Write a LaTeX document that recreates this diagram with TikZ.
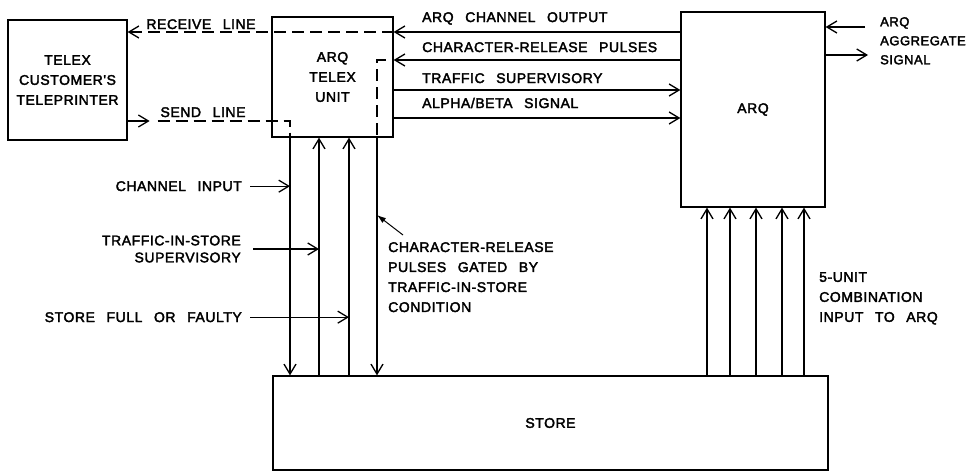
\documentclass[tikz,border=0pt]{standalone}
\usepackage{fontspec}
\usepackage{tikz}
\usetikzlibrary{arrows.meta, positioning}
\newfontfamily\drawfont{Liberation Sans}[LetterSpace=4, WordSpace=2.6, FakeBold=2.5]
\tikzset{
  blockbox/.style={
    draw, line width=1.3pt, align=center,
    font=\drawfont\fontsize{14}{20}\selectfont
  },
  sigarrow/.style={
    -{Straight Barb[length=10pt, width=12pt]}, line width=1.3pt
  },
  sigdash/.style={
    line width=1.3pt, dash pattern=on 12pt off 6pt
  },
  siglabel/.style={
    font=\drawfont\fontsize{14}{20}\selectfont, inner sep=0pt
  },
  ptrarrow/.style={
    -{Latex[length=9pt, width=6pt]}, line width=1pt
  },
}

\begin{document}
\begin{tikzpicture}[x=1pt, y=-1pt]
  \useasboundingbox (0,0) rectangle (970,471);

  % Blocks
  \node[blockbox, minimum width=119pt, minimum height=120pt] (TLX) at (67.5,80)
       {TELEX\\CUSTOMER'S\\TELEPRINTER};
  \node[blockbox, minimum width=121pt, minimum height=120pt] (ATU) at (332.5,77)
       {ARQ\\TELEX\\UNIT};
  \node[blockbox, minimum width=144pt, minimum height=195pt] (ARQ) at (753,109.5) {ARQ};
  \node[blockbox, minimum width=555pt, minimum height=94pt] (STO) at (550.5,423) {STORE};

  % Signal levels
  \coordinate (yRcv) at (0,32);
  \coordinate (yCrp) at (0,60);
  \coordinate (yTsv) at (0,90);
  \coordinate (yAbs) at (0,118);
  \coordinate (ySnd) at (0,121);
  \coordinate (yPtr) at (0,215);
  \coordinate (xCin) at (290,0);
  \coordinate (xTis) at (319,0);
  \coordinate (xSff) at (349,0);
  \coordinate (xCrg) at (377,0);

  % Unit <-> ARQ
  \draw[sigarrow] (ARQ.west |- yRcv) -- (ATU.east |- yRcv);
  \draw[sigarrow] (ARQ.west |- yCrp) -- (ATU.east |- yCrp);
  \draw[sigarrow] (ATU.east |- yTsv) -- (ARQ.west |- yTsv);
  \draw[sigarrow] (ATU.east |- yAbs) -- (ARQ.west |- yAbs);
  \node[siglabel, anchor=base west] (lOut) at (422,22) {ARQ CHANNEL OUTPUT};
  \node[siglabel, anchor=base west] (lCrp) at (422,52) {CHARACTER-RELEASE PULSES};
  \node[siglabel, anchor=base west] (lTsv) at (422,83) {TRAFFIC SUPERVISORY};
  \node[siglabel, anchor=base west] (lAbs) at (422,108) {ALPHA/BETA SIGNAL};

  % Telex lines
  \draw[sigdash, -{Straight Barb[length=10pt, width=12pt]}]
       (ATU.east |- yRcv) -- (TLX.east |- yRcv);
  \coordinate (sndTip) at ([xshift=22pt]TLX.east |- ySnd);
  \draw[sigarrow] (TLX.east |- ySnd) -- (sndTip);
  \draw[sigdash] ([xshift=8pt]sndTip) -- (xCin |- ySnd) -- (xCin |- ATU.south);
  \node[siglabel, anchor=base] (lRcv) at (201,29) {RECEIVE LINE};
  \node[siglabel, anchor=base] (lSnd) at (203,117) {SEND LINE};

  % Unit <-> store
  \path (ATU.east |- yCrp) ++(-8,0) coordinate (crpIn);
  \draw[sigdash] (crpIn) -| (xCrg |- ATU.south);
  \draw[sigarrow] (xCin |- ATU.south) -- (xCin |- STO.north);
  \draw[sigarrow] (xTis |- STO.north) -- (xTis |- ATU.south);
  \draw[sigarrow] (xSff |- STO.north) -- (xSff |- ATU.south);
  \draw[sigarrow] (xCrg |- ATU.south) -- (xCrg |- STO.north);

  % Left-hand inputs
  \node[siglabel, anchor=base east] (lCin) at (242,191) {CHANNEL INPUT};
  \node[siglabel, anchor=east, align=right] (lTis) at (241,249)
       {TRAFFIC-IN-STORE\\[-3pt]SUPERVISORY};
  \node[siglabel, anchor=base east] (lSff) at (242,322) {STORE FULL OR FAULTY};
  \draw[sigarrow] ([xshift=8pt]lCin.east) -- (xCin |- lCin.east);
  \draw[sigarrow] ([xshift=12pt]lTis.east) -- (xTis |- lTis.east);
  \draw[sigarrow] ([xshift=8pt]lSff.east) -- (xSff |- lSff.east);

  % Gated pulses note
  \node[siglabel, anchor=north west, align=left] (lCrg) at (388,242)
       {CHARACTER-RELEASE\\PULSES GATED BY\\TRAFFIC-IN-STORE\\CONDITION};
  \draw[ptrarrow] ([xshift=15pt, yshift=7pt]lCrg.north west) -- (xCrg |- yPtr);

  % Aggregate signal
  \coordinate (aggIn) at (865,27);
  \coordinate (aggOut) at (868,55);
  \draw[sigarrow] (aggIn) -- (ARQ.east |- aggIn);
  \draw[sigarrow] (ARQ.east |- aggOut) -- (aggOut);
  \node[siglabel, anchor=north west, align=left, font=\drawfont\fontsize{13}{19}\selectfont]
       (lAgg) at (880,17) {ARQ\\AGGREGATE\\SIGNAL};

  % 5-unit combination
  \foreach \x in {707,730,756,782,804}
    \draw[sigarrow] (\x,0 |- STO.north) -- (\x,0 |- ARQ.south);
  \node[siglabel, anchor=north west, align=left] (lFiv) at (819,272)
       {5-UNIT\\COMBINATION\\INPUT TO ARQ};
\end{tikzpicture}
\end{document}
